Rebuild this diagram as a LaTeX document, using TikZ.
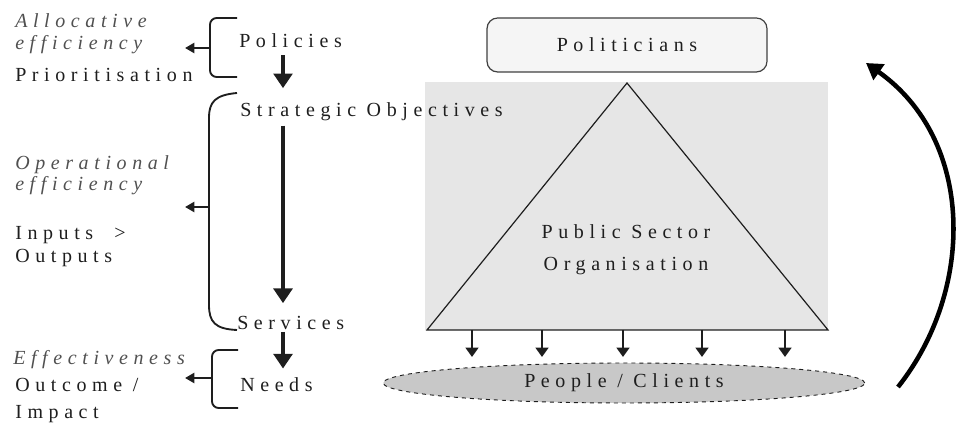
\documentclass[tikz,border=0pt]{standalone}
\usepackage{fontspec}
\setmainfont{Liberation Serif}[LetterSpace=28]
\usetikzlibrary{arrows.meta,shapes.geometric}
\definecolor{ink}{HTML}{1E1E1E}
\definecolor{softink}{HTML}{505050}
\definecolor{panel}{HTML}{E6E6E6}
\definecolor{boxfill}{HTML}{F5F5F5}
\definecolor{crowd}{HTML}{C8C8C8}
\begin{document}
\begin{tikzpicture}[x=0.75pt,y=-0.75pt,
  font=\fontsize{15}{18}\selectfont,
  lbl/.style={anchor=base west, inner sep=0pt, text=ink},
  itl/.style={lbl, text=softink, font=\fontsize{15}{18}\selectfont\itshape},
  bigarr/.style={draw=ink, line width=3.6pt, -{Triangle[width=14pt,length=11pt]}},
  tickarr/.style={draw=ink, line width=2pt, -{Triangle[width=7.5pt,length=7pt]}},
  smallarr/.style={draw=ink, line width=2pt, -{Triangle[width=9.5pt,length=7pt]}},
  bracket/.style={draw=ink, line width=1.4pt, rounded corners=5pt},
  loop/.style={draw=black, line width=3.4pt, -{Triangle[width=14pt,length=12pt]}}]
\useasboundingbox (0,0) rectangle (957,423);

% ---- organisation panel (background) ----
\fill[panel] (425,82) rectangle (828,330);
\coordinate (apex) at (627,83);
\coordinate (bl) at (427,330);
\coordinate (br) at (828,330);
\draw[ink, line width=0.9pt] (bl) -- (apex) -- (br) -- cycle;
\node[inner sep=0pt, text=ink, align=center, font=\fontsize{15}{24}\selectfont] (pso) at (626,250)
  {Public Sector\\Organisation};

% ---- left column: criteria ----
\node[itl] (alloc1) at (15,28) {Allocative};
\node[itl] (alloc2) at (15,50) {efficiency};
\node[lbl] (prio)   at (15,82) {Prioritisation};
\node[itl] (oper1)  at (15,170) {Operational};
\node[itl] (oper2)  at (15,191) {efficiency};
\node[lbl] (inp)    at (15,240) {Inputs \ {>}};
\node[lbl] (outp)   at (15,263) {Outputs};
\node[itl] (eff)    at (13,365) {Effectiveness};
\node[lbl] (outc)   at (15,392) {Outcome /};
\node[lbl] (imp)    at (15,419) {Impact};

% ---- middle column: chain ----
\node[lbl] (pol)  at (239,48)  {Policies};
\node[lbl] (str)  at (240,117) {Strategic Objectives};
\node[lbl] (serv) at (237,330) {Services};
\node[lbl] (need) at (240,392) {Needs};

\coordinate (ax) at (283,0);
\draw[bigarr] ([yshift=-5pt]pol.south -| ax) -- ([yshift=11pt]str.north -| ax);
\draw[bigarr] ([yshift=-3pt]str.south -| ax) -- ([yshift=10pt]serv.north -| ax);
\draw[bigarr] ([yshift=-1pt]serv.south -| ax) -- ([yshift=7pt]need.north -| ax);

% ---- brackets with pointers ----
\draw[bracket] (237,18) -- (210,18) -- (210,77) -- (237,77);
\coordinate (b1) at (210,48);
\coordinate (t1) at (185,48);
\draw[tickarr] (b1) -- (t1);

\draw[draw=ink, line width=1.4pt] (237,93) .. controls (215,95) and (209,102) .. (209,118)
  -- (209,305) .. controls (209,322) and (215,329) .. (237,330);
\coordinate (b2) at (209,207);
\coordinate (t2) at (185,207);
\draw[tickarr] (b2) -- (t2);

\draw[bracket] (238,350) -- (212,350) -- (212,408) -- (238,408);
\coordinate (b3) at (212,378);
\coordinate (t3) at (185,378);
\draw[tickarr] (b3) -- (t3);

% ---- top and bottom of the organisation ----
\node[draw=ink!85, fill=boxfill, rounded corners=8pt, line width=0.9pt,
      minimum width=210pt, minimum height=40.5pt, inner sep=0pt, text=ink] (polit) at (627,45) {Politicians};

\node[ellipse, draw=ink, dashed, fill=crowd, line width=0.7pt,
      minimum width=361pt, minimum height=30pt, inner sep=0pt, text=ink] (ppl) at (624,383) {People / Clients};

% ---- delivery arrows to the people ----
\foreach \i/\px in {1/472, 2/542, 3/623, 4/702, 5/785} {
  \coordinate (d\i) at (\px,330);
  \coordinate (e\i) at (\px,357);
  \draw[smallarr] (d\i) -- (e\i);
}

% ---- feedback loop ----
\coordinate (lstart) at (898,387);
\coordinate (lend) at (866,63);
\draw[loop] (lstart) .. controls (975,290) and (975,140) .. (lend);
\end{tikzpicture}
\end{document}
